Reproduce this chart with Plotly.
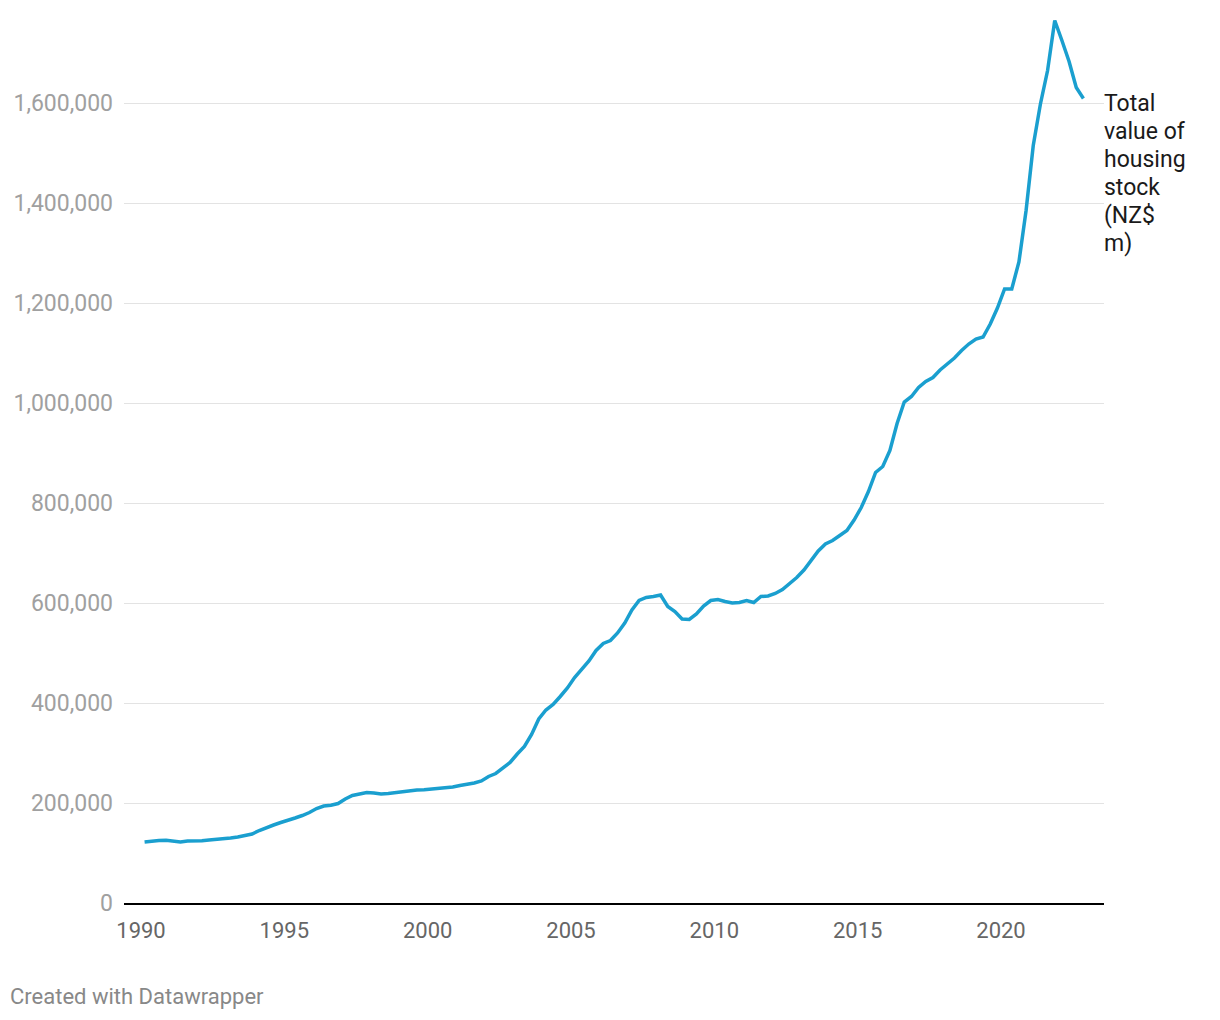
import plotly.graph_objects as go

# Quarterly data, 1990 Q1 .. 2022 Q4
years = list(range(1990, 2023))
quarters = [f"{y} Q{q}" for y in years for q in range(1, 5)]

# Total value of housing stock (NZ$ m)
values = [
    122000, 124000, 125000, 125500, 124000, 122000, 124000, 124000,
    124500, 126000, 127000, 128500, 130000, 132000, 134500, 138000,
    145000, 151000, 156000, 161000, 165000, 170000, 175000, 181000,
    189000, 194000, 195500, 199000, 208000, 215000, 218000, 221000,
    220000, 218000, 219000, 221000, 223000, 225500, 226000, 226500,
    228000, 228500, 231000, 232000, 235000, 237000, 240000, 244000,
    253000, 259000, 269000, 281000, 298000, 313000, 337000, 368000,
    386000, 397000, 413000, 430000, 451000, 467000, 484000, 505000,
    519000, 525000, 540000, 560000, 586000, 605000, 611000, 613000,
    616000, 593000, 583000, 568000, 567000, 578000, 594000, 605000,
    607000, 603000, 600000, 601000, 605000, 601000, 613000, 614000,
    619000, 627000, 638000, 651000, 666000, 684000, 704000, 718000,
    725000, 735000, 745000, 766000, 791000, 823000, 861000, 873000,
    905000, 959000, 1002000, 1013000, 1031000, 1043000, 1051000, 1066000,
    1078000, 1090000, 1105000, 1118000, 1128000, 1132000, 1158000, 1190000,
    1228000, 1228000, 1282000, 1385000, 1515000, 1598000, 1665000, 1765000,
    1725000, 1683000, 1631000, 1609000,
]

x_ticks = [1990, 1995, 2000, 2005, 2010, 2015, 2020]
y_ticks = [0, 200000, 400000, 600000, 800000, 1000000, 1200000, 1400000, 1600000]
y_tick_text = ["0", "200,000", "400,000", "600,000", "800,000",
               "1,000,000", "1,200,000", "1,400,000", "1,600,000"]
label_lines = ["Total", "value of", "housing", "stock", "(NZ$", "m)"]

# quarter -> decimal year (mid-quarter)
x_vals = [int(s[:4]) + (int(s[-1]) - 1) * 0.25 + 0.125 for s in quarters]

fig = go.Figure()
fig.add_trace(go.Scatter(
    x=x_vals, y=values, mode="lines",
    line=dict(color="#1a9fcf", width=3.5),
    hoverinfo="skip", showlegend=False,
))

annotations = []
for k, line in enumerate(label_lines):
    annotations.append(dict(
        text=line, xref="paper", yref="y",
        x=1.0, y=values[-1], xanchor="left", yanchor="middle",
        xshift=-2, yshift=-5 - 28 * k, align="left", showarrow=False,
        font=dict(family="Roboto", size=23, color="#1a1a1a"),
    ))
annotations.append(dict(
    text="Created with Datawrapper", xref="paper", yref="paper",
    x=-116 / 980, y=-94 / 893, xanchor="left", yanchor="middle",
    showarrow=False,
    font=dict(family="Roboto", size=22, color="#888888"),
))

fig.update_layout(
    width=1204, height=1004,
    margin=dict(l=116, r=108, t=2, b=109),
    paper_bgcolor="white", plot_bgcolor="white",
    font=dict(family="Roboto", size=22, color="#333333"),
    xaxis=dict(
        range=[1989.407, 2023.593],
        tickmode="array", tickvals=x_ticks, ticktext=[str(t) for t in x_ticks],
        showgrid=False, zeroline=False,
        showline=True, linecolor="#000000", linewidth=2,
        ticks="", ticklabelstandoff=7,
        tickfont=dict(family="Roboto", size=22, color="#666666"),
    ),
    yaxis=dict(
        range=[0, 1786000],
        tickmode="array", tickvals=y_ticks, ticktext=y_tick_text,
        showgrid=True, gridcolor="#e3e3e3", gridwidth=1,
        zeroline=False, showline=False,
        ticks="", ticklabelstandoff=10,
        tickfont=dict(family="Roboto", size=23, color="#a0a0a0"),
    ),
    annotations=annotations,
)

fig.write_html("out.html")
